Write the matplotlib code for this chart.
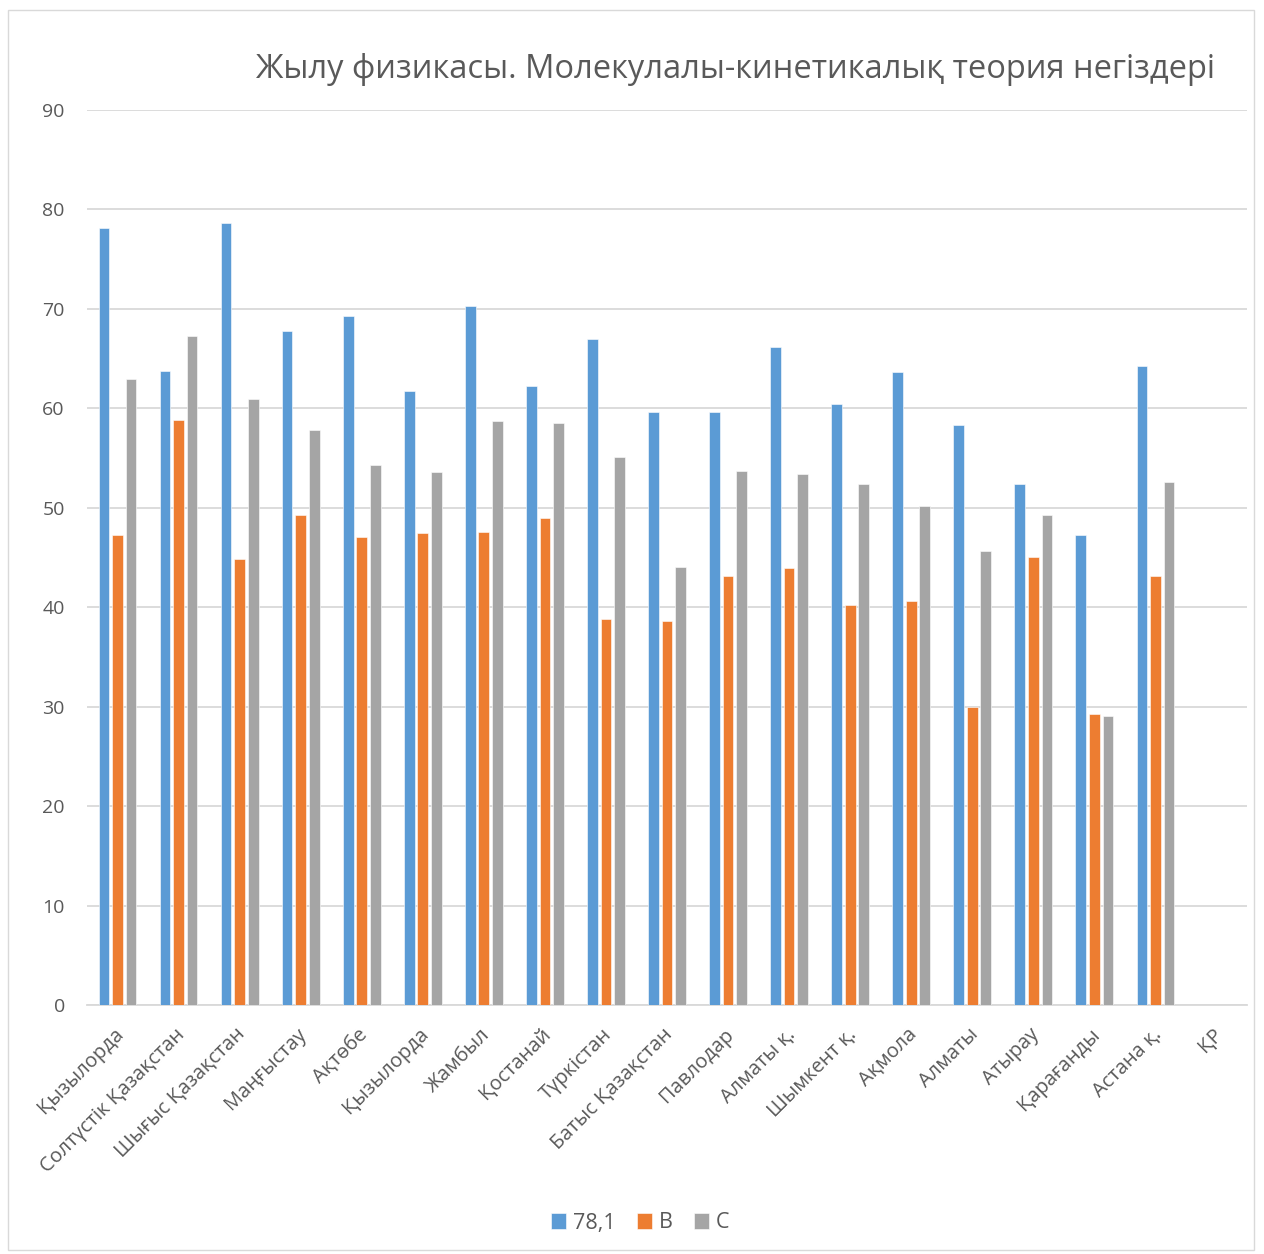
import matplotlib
matplotlib.use("Agg")
import matplotlib.pyplot as plt
import matplotlib.transforms as mtransforms
import numpy as np
from matplotlib.patches import Rectangle

plt.rcParams['font.family'] = ['Open Sans', 'DejaVu Sans']

categories = ["Қызылорда", "Солтүстік Қазақстан", "Шығыс Қазақстан", "Маңғыстау", "Ақтөбе",
              "Қызылорда", "Жамбыл", "Қостанай", "Түркістан", "Батыс Қазақстан", "Павлодар",
              "Алматы қ.", "Шымкент қ.", "Ақмола", "Алматы", "Атырау", "Қарағанды", "Астана қ.", "ҚР"]
series_a = [78.1, 63.8, 78.6, 67.8, 69.3, 61.7, 70.3, 62.2, 67.0, 59.6, 59.6, 66.2, 60.4, 63.7, 58.3, 52.4, 47.3, 64.3, np.nan]
series_b = [47.3, 58.8, 44.8, 49.3, 47.1, 47.5, 47.6, 49.0, 38.8, 38.6, 43.1, 43.9, 40.2, 40.6, 30.0, 45.1, 29.3, 43.1, np.nan]
series_c = [62.9, 67.3, 60.9, 57.8, 54.3, 53.6, 58.7, 58.5, 55.1, 44.0, 53.7, 53.4, 52.4, 50.2, 45.7, 49.3, 29.1, 52.6, np.nan]
series_names = ["78,1", "B", "C"]
colors = ["#5B9BD5", "#ED7D31", "#A5A5A5"]

W, H = 1264, 1254
fig = plt.figure(figsize=(W / 100, H / 100), dpi=100)
ax = fig.add_axes([87 / W, 1 - 1005 / H, (1247 - 87) / W, (1005 - 110) / H])

x = np.arange(len(categories))
bw = 0.175
step = 0.222
for i, (vals, name, col) in enumerate(zip([series_a, series_b, series_c], series_names, colors)):
    ax.bar(x + (i - 1) * step, vals, width=bw, color=col, label=name,
           edgecolor="white", linewidth=0.4, zorder=3)

ax.set_xlim(-0.5, len(categories) - 0.5)
ax.set_ylim(0, 90)
ax.set_yticks(np.arange(0, 91, 10))
ax.yaxis.grid(True, color="#D9D9D9", linewidth=1.3, zorder=0)
ax.set_axisbelow(True)
for s in ["left", "right", "top"]:
    ax.spines[s].set_visible(False)
ax.spines["bottom"].set_color("#D9D9D9")
ax.spines["bottom"].set_linewidth(1.3)
ax.tick_params(axis="y", length=0, pad=16, labelsize=14, labelcolor="#595959")
ax.tick_params(axis="x", length=0, pad=14)
ax.set_xticks(x)
ax.set_xticklabels(categories, rotation=45, ha="right", va="top", rotation_mode="anchor",
                   fontsize=14.5, color="#595959")
offset = mtransforms.ScaledTranslation(-4 / 100, 0, fig.dpi_scale_trans)
for lab in ax.get_xticklabels():
    lab.set_transform(lab.get_transform() + offset)

fig.text(735 / W, 1 - 70 / H, "Жылу физикасы. Молекулалы-кинетикалық теория негіздері",
         ha="center", va="center", fontsize=23.5, color="#595959")

leg = fig.legend(loc="center", bbox_to_anchor=(640 / W, 1 - 1223 / H), ncol=3, frameon=False,
                 fontsize=15.5, handlelength=0.7, handleheight=0.7, handletextpad=0.3,
                 columnspacing=1.0, labelcolor="#595959")

fig.patches.append(Rectangle((8 / W, 1 - 1250 / H), (1254 - 8) / W, (1250 - 10) / H,
                             transform=fig.transFigure, fill=False, edgecolor="#D9D9D9", linewidth=1))

fig.savefig("out.png", dpi=100)
